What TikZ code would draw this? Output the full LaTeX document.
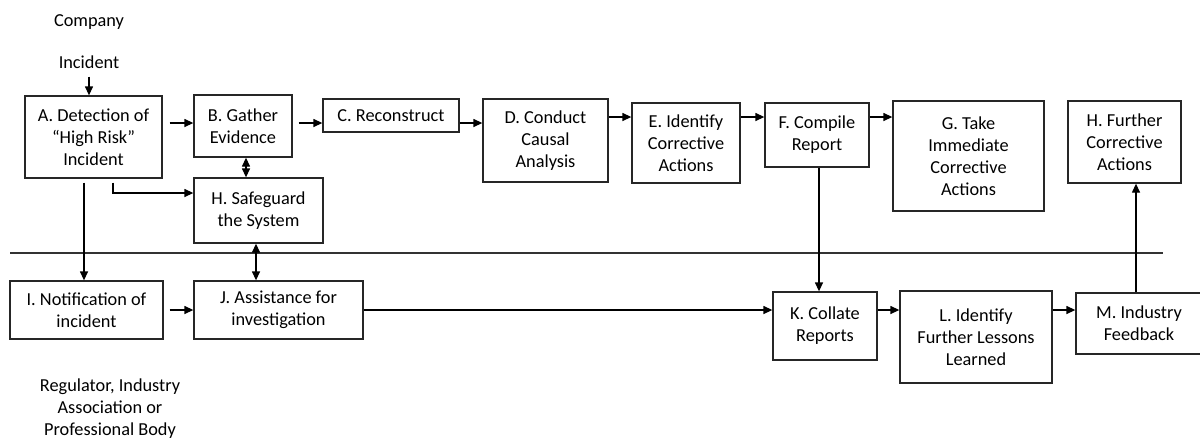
\documentclass[tikz,border=0pt]{standalone}
\usepackage{fontspec}
\setmainfont{Carlito}
\usetikzlibrary{arrows.meta}
\tikzset{
  box/.style={draw=black!85, line width=1.3pt, align=center, inner sep=0pt,
    font=\fontsize{18.3}{22}\selectfont},
  lbl/.style={align=center, inner sep=0pt, font=\fontsize{18.3}{22}\selectfont},
  arr/.style={line width=1.3pt, -{Triangle[length=9pt,width=8pt]}},
  darr/.style={line width=1.3pt, {Triangle[length=9pt,width=8pt]}-{Triangle[length=9pt,width=8pt]}},
}
\begin{document}
\begin{tikzpicture}[x=1pt,y=-1pt]
\useasboundingbox (0,0) rectangle (1200,440);
\fill[white] (0,0) rectangle (1200,440);
% labels
\node[lbl] (comp) at (89,22) {Company};
\node[lbl] (inc) at (89,62) {Incident};
\node[lbl] (reg) at (110,409) {Regulator, Industry\\Association or\\Professional Body};
% boxes
\node[box, minimum width=137, minimum height=82] (A) at (93.5,137) {A. Detection of\\``High Risk''\\Incident};
\node[box, minimum width=98, minimum height=62] (B) at (243,126) {B. Gather\\Evidence};
\node[box, minimum width=136, minimum height=33] (C) at (391,115.5) {C. Reconstruct};
\node[box, minimum width=125, minimum height=83] (D) at (545.5,140.5) {D. Conduct\\Causal\\Analysis};
\node[box, minimum width=108, minimum height=80] (E) at (686,143) {E. Identify\\Corrective\\Actions};
\node[box, minimum width=104, minimum height=64] (F) at (817,135) {F. Compile\\Report};
\node[box, minimum width=151, minimum height=110] (G) at (968.5,156) {G. Take\\Immediate\\Corrective\\Actions};
\node[box, minimum width=113, minimum height=82] (H2) at (1124.5,142) {H. Further\\Corrective\\Actions};
\node[box, minimum width=129, minimum height=65] (H) at (258.5,210.5) {H. Safeguard\\the System};
\node[box, minimum width=153, minimum height=58] (I) at (86.5,310) {I. Notification of\\incident};
\node[box, minimum width=169, minimum height=58] (J) at (278.5,310) {J. Assistance for\\investigation};
\node[box, minimum width=104, minimum height=68] (K) at (825,326) {K. Collate\\Reports};
\node[box, minimum width=152, minimum height=92] (L) at (976,337) {L. Identify\\Further Lessons\\Learned};
\node[box, minimum width=126, minimum height=61] (M) at (1139,323.5) {M. Industry\\Feedback};
% separator
\coordinate (sepL) at (10,253);
\coordinate (sepR) at (1163,253);
\draw[line width=1.3pt, black!80] (sepL) -- (sepR);
% connectors
\draw[arr, shorten <=8pt] (inc.south) -- (inc.south |- A.north);
\draw[arr, shorten <=7pt] (A.east |- 0,123) -- (B.west |- 0,123);
\draw[arr, shorten <=6pt] (B.east |- 0,123) -- (C.west |- 0,123);
\draw[arr] (C.east |- 0,123) -- (D.west |- 0,123);
\draw[arr] (D.east |- 0,117) -- (E.west |- 0,117);
\draw[arr] (E.east |- 0,117) -- (F.west |- 0,117);
\draw[arr] (F.east |- 0,117) -- (G.west |- 0,117);
\draw[darr] (B.south -| 246,0) -- (H.north -| 246,0);
\draw[arr, shorten <=4pt] (A.south -| 113,0) |- (H.west |- 0,193);
\draw[arr, shorten <=4pt] (A.south -| 84,0) -- (I.north -| 84,0);
\draw[darr] (H.south -| 256,0) -- (J.north -| 256,0);
\draw[arr, shorten <=6pt] (I.east) -- (J.west);
\draw[arr] (J.east) -- (K.west |- J.east);
\draw[arr] (F.south -| 819,0) -- (K.north -| 819,0);
\draw[arr] (K.east |- 0,310) -- (L.west |- 0,310);
\draw[arr] (L.east |- 0,310) -- (M.west |- 0,310);
\draw[arr] (M.north -| 1136,0) -- (H2.south -| 1136,0);
\end{tikzpicture}
\end{document}
